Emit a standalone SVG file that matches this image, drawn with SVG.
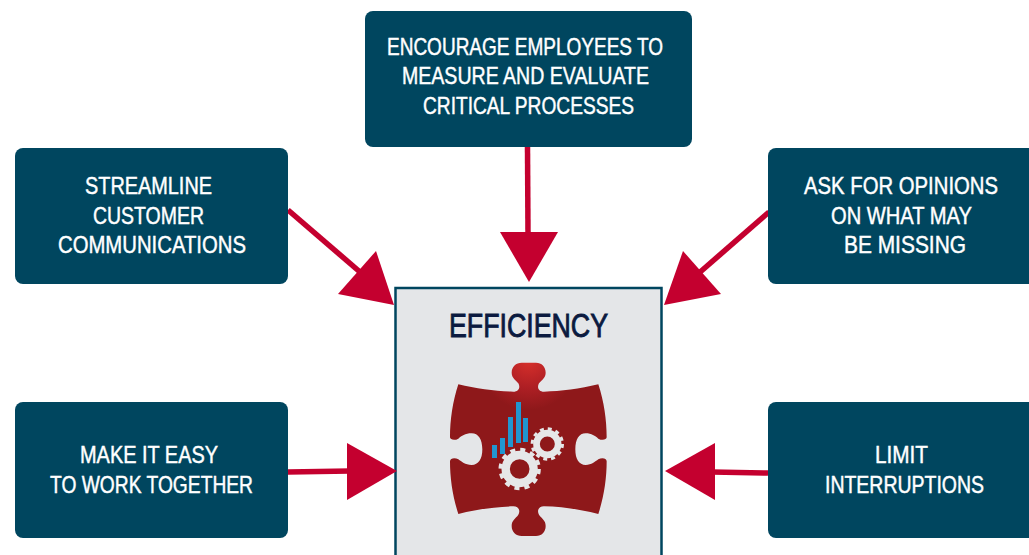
<svg xmlns="http://www.w3.org/2000/svg" width="1029" height="555" viewBox="0 0 1029 555">
<style>
.box{fill:#00465f}
.t{font-family:"Liberation Sans",Arial,sans-serif;font-size:24px;fill:#fff;stroke:#fff;stroke-width:.45px}
.conn line{stroke:#c4002f;stroke-width:5.500}
.conn polygon{fill:#c4002f}
</style>
<defs>
<radialGradient id="pz" gradientUnits="userSpaceOnUse" cx="296" cy="30" r="150">
<stop offset="0" stop-color="#d8302b"/><stop offset=".55" stop-color="#ae1f24"/><stop offset="1" stop-color="#8e181a"/>
</radialGradient>
</defs>
<rect width="1029" height="555" fill="#fff"/>
<g id="node-center">
<rect x="395.500" y="288" width="266" height="280" fill="#e4e6e8" stroke="#00465f" stroke-width="2.500"/>
<text x="449" y="337" textLength="159" lengthAdjust="spacingAndGlyphs" font-family="Liberation Sans, Arial, sans-serif" font-size="34" fill="#0b1a3f" stroke="#0b1a3f" stroke-width=".9">EFFICIENCY</text>
<g transform="translate(430 350) scale(.33333)">
<path fill="url(#pz)" d="M85 103C140 116 200 124 250 125C266 125 272 112 265 100C257 90 245 84 245 68C245 50 258 38 275 38H318C335 38 347 50 347 68C347 84 335 90 327 100C320 112 326 125 342 125C392 124 450 116 505 103C522 155 530 210 530 262C530 270 515 272 505 266C495 258 485 250 467 250C447 250 436 268 436 298C436 328 447 345 467 345C485 345 495 335 505 328C515 322 530 324 530 334C530 385 522 440 505 492C450 478 392 470 342 469C326 469 320 482 327 494C335 506 347 510 347 528C347 546 335 558 318 558H275C258 558 245 546 245 528C245 510 257 506 265 494C272 482 266 469 250 469C200 470 140 478 85 492C68 440 60 385 60 334C60 324 75 322 85 328C95 335 105 345 125 345C145 345 157 328 157 298C157 268 145 250 125 250C105 250 95 258 85 266C75 272 60 270 60 262C60 210 68 155 85 103Z"/>
<g fill="#2196d0">
<rect x="186" y="285" width="15" height="39"/>
<rect x="210" y="264" width="15" height="48"/>
<rect x="234" y="201" width="15" height="90"/>
<rect x="258" y="156" width="15" height="123"/>
<rect x="279" y="204" width="15" height="72"/>
</g>
<g fill="none" stroke="#e6e7e8">
<circle cx="269" cy="357" r="42" stroke-width="25"/>
<circle cx="269" cy="357" r="58" stroke-width="11" stroke-dasharray="15.200 15.170"/>
<circle cx="352" cy="282" r="32.500" stroke-width="20"/>
<circle cx="352" cy="282" r="45.500" stroke-width="9" stroke-dasharray="11.900 11.920"/>
</g>
</g>
</g>
<g id="connectors" class="conn">
<line x1="527.500" y1="147" x2="528" y2="235"/>
<polygon points="500,232 558,232 529,282"/>
<line x1="288" y1="210" x2="360" y2="272"/>
<polygon points="376,251 338,294 394,305"/>
<line x1="769" y1="212" x2="699" y2="273"/>
<polygon points="683,251 721,294 664,305"/>
<line x1="288" y1="472" x2="350" y2="471"/>
<polygon points="347,443 347,500 397,471"/>
<line x1="768" y1="473" x2="712" y2="472"/>
<polygon points="715,443 715,500 665,471"/>
</g>
<g id="node-top">
<rect class="box" x="365" y="11" width="327" height="136" rx="8"/>
<text class="t" x="387" y="54.500" textLength="276" lengthAdjust="spacingAndGlyphs">ENCOURAGE EMPLOYEES TO</text>
<text class="t" x="402" y="83.500" textLength="247" lengthAdjust="spacingAndGlyphs">MEASURE AND EVALUATE</text>
<text class="t" x="423" y="113.500" textLength="211" lengthAdjust="spacingAndGlyphs">CRITICAL PROCESSES</text>
</g>
<g id="node-upper-left">
<rect class="box" x="15" y="148" width="273" height="136" rx="8"/>
<text class="t" x="85" y="193.500" textLength="127" lengthAdjust="spacingAndGlyphs">STREAMLINE</text>
<text class="t" x="93" y="223.500" textLength="111" lengthAdjust="spacingAndGlyphs">CUSTOMER</text>
<text class="t" x="58" y="252.500" textLength="188" lengthAdjust="spacingAndGlyphs">COMMUNICATIONS</text>
</g>
<g id="node-upper-right">
<rect class="box" x="768" y="148" width="275" height="136" rx="8"/>
<text class="t" transform="translate(804 193.500) scale(.84 1)" x="0" y="0" textLength="231" lengthAdjust="spacingAndGlyphs">ASK FOR OPINIONS</text>
<text class="t" x="831" y="223.500" textLength="141" lengthAdjust="spacingAndGlyphs">ON WHAT MAY</text>
<text class="t" x="844" y="252.500" textLength="122" lengthAdjust="spacingAndGlyphs">BE MISSING</text>
</g>
<g id="node-lower-left">
<rect class="box" x="15" y="402" width="273" height="136" rx="8"/>
<text class="t" x="80" y="462.500" textLength="138" lengthAdjust="spacingAndGlyphs">MAKE IT EASY</text>
<text class="t" x="50" y="492.500" textLength="203" lengthAdjust="spacingAndGlyphs">TO WORK TOGETHER</text>
</g>
<g id="node-lower-right">
<rect class="box" x="768" y="402" width="275" height="136" rx="8"/>
<text class="t" x="875" y="462.500" textLength="53" lengthAdjust="spacingAndGlyphs">LIMIT</text>
<text class="t" x="825" y="492.500" textLength="159" lengthAdjust="spacingAndGlyphs">INTERRUPTIONS</text>
</g>
</svg>
